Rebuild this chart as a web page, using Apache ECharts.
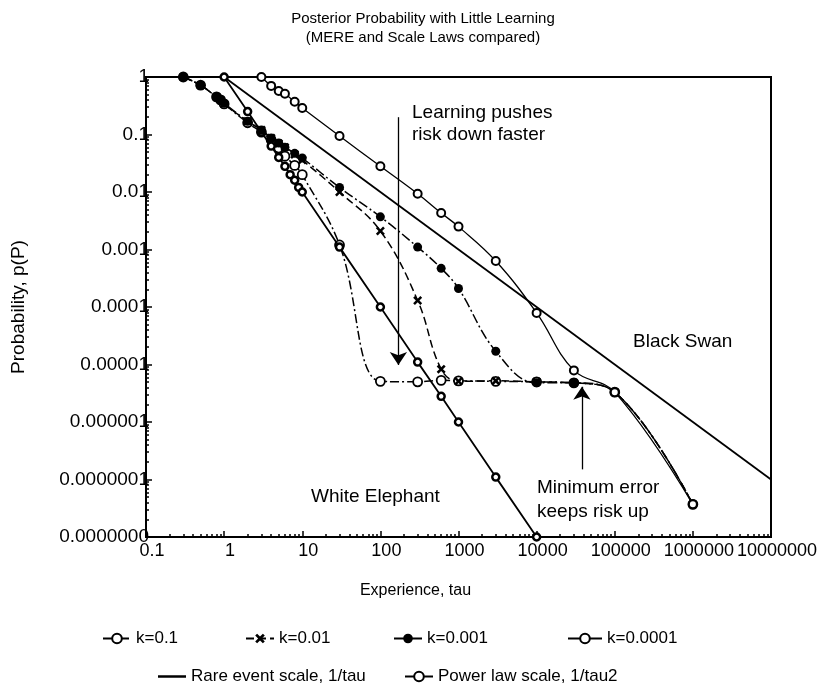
<!DOCTYPE html>
<html>
<head>
<meta charset="utf-8">
<script src="https://cdn.jsdelivr.net/npm/echarts/dist/echarts.min.js"></script>
<style>
  html, body { margin: 0; padding: 0; background: #fff; }
  .EC { width: 839px; height: 683px; }
</style>
</head>
<body>
<div class="EC"></div>
<script>
// experience values (tau)
const tauK = [0.3, 0.5, 0.8, 0.9, 1, 2, 3, 4, 5, 6, 8, 10, 30, 100, 300, 600, 1000, 3000, 10000, 30000, 100000, 1000000]
const tauK4 = [3, 4, 5, 6, 8, 10, 30, 100, 300, 600, 1000, 3000, 10000, 30000, 100000, 1000000]
const tauRare = [1, 10000000]
const tauPower = [1, 2, 3, 4, 5, 6, 7, 8, 9, 10, 30, 100, 300, 600, 1000, 3000, 10000]

// probabilities
const pK1 = [1, 0.72, 0.45, 0.4, 0.34, 0.16, 0.11, 0.08, 0.058, 0.042, 0.029, 0.02, 0.0012, 0.0000051, 0.000005, 0.0000053, 0.0000052, 0.0000051, 0.000005, 0.0000048, 0.0000033, 0.000000037]
const pK2 = [1, 0.72, 0.45, 0.4, 0.34, 0.17, 0.12, 0.087, 0.07, 0.06, 0.045, 0.036, 0.01, 0.0021, 0.00013, 0.0000083, 0.0000051, 0.0000052, 0.000005, 0.0000048, 0.0000033, 0.000000037]
const pK3 = [1, 0.72, 0.45, 0.4, 0.35, 0.17, 0.12, 0.087, 0.071, 0.06, 0.047, 0.039, 0.012, 0.0037, 0.0011, 0.00047, 0.00021, 0.000017, 0.0000048, 0.0000048, 0.0000033, 0.000000037]
const pK4 = [1, 0.7, 0.57, 0.51, 0.37, 0.29, 0.094, 0.028, 0.0093, 0.0043, 0.0025, 0.00063, 0.000079, 0.0000079, 0.0000033, 0.000000037]
const pRare = [1, 0.0000001]
const pPower = [1, 0.25, 0.11, 0.063, 0.04, 0.028, 0.02, 0.016, 0.012, 0.01, 0.0011, 0.0001, 0.000011, 0.0000028, 0.000001, 0.00000011, 0.00000001]

const xTickLabels = ['0.1', '1', '10', '100', '1000', '10000', '100000', '1000000', '10000000']
const yTickLabels = ['1', '0.1', '0.01', '0.001', '0.0001', '0.00001', '0.000001', '0.0000001', '0.0000000']

// arrows: [tau, p from, p to]
const arrowLearn = [170, 0.2, 0.0000098]
const arrowMin = [38000, 0.00000015, 0.0000041]

const font = 'Liberation Sans, Arial, sans-serif'
const cross = 'path://M2,0L5,3L8,0L10,2L7,5L10,8L8,10L5,7L2,10L0,8L3,5L0,2Z'

function pairs(xs, ys) {
    return xs.map((x, i) => [x, ys[i]])
}

let EC = echarts.init(document.querySelector('.EC'))

let legendStyle = { color: '#000', fontSize: 17, fontFamily: font }
function legendAt(name, left, top, w) {
    return {
        data: [name], left: left, top: top, itemWidth: w || 28, itemHeight: 12,
        itemGap: 4, textStyle: legendStyle, selectedMode: false
    }
}

let rareLegend = legendAt('Rare event scale, 1/tau', 153, 663)
rareLegend.data = [{ name: 'Rare event scale, 1/tau', icon: 'rect' }]
rareLegend.itemHeight = 2.5

let option = {
    animation: false,
    backgroundColor: '#fff',
    title: {
        text: 'Posterior Probability with Little Learning\n(MERE and Scale Laws compared)',
        left: 418, top: 4, textAlign: 'center',
        textStyle: { fontSize: 15, fontWeight: 'normal', color: '#000', fontFamily: font, lineHeight: 19 }
    },
    legend: [
        legendAt('k=0.1', 97, 625),
        legendAt('k=0.01', 240, 625),
        legendAt('k=0.001', 388, 625),
        legendAt('k=0.0001', 562, 625, 34),
        rareLegend,
        legendAt('Power law scale, 1/tau2', 399, 663)
    ],
    grid: {
        left: 146, top: 77, right: 68, bottom: 146,
        show: true, borderColor: '#000', borderWidth: 2
    },
    xAxis: {
        type: 'log', logBase: 10, min: 0.1, max: 10000000, interval: 1,
        name: 'Experience, tau', nameLocation: 'middle', nameGap: 46,
        nameTextStyle: { fontSize: 16, color: '#000', fontFamily: font, padding: [0, 86, 0, 0] },
        axisLine: { lineStyle: { color: '#000', width: 2 } },
        axisTick: { inside: true, length: 6, lineStyle: { color: '#000', width: 1.5 } },
        minorTick: { show: true, splitNumber: 9, length: 3, lineStyle: { color: '#000', width: 1.5 } },
        splitLine: { show: false },
        axisLabel: {
            color: '#000', fontSize: 18, fontFamily: font, margin: 5, padding: [0, 0, 0, 12],
            formatter: v => xTickLabels[Math.round(Math.log10(v)) + 1]
        }
    },
    yAxis: {
        type: 'log', logBase: 10, min: 0.00000001, max: 1, interval: 1,
        name: 'Probability, p(P)', nameLocation: 'middle', nameGap: 118,
        nameTextStyle: { fontSize: 19, color: '#000', fontFamily: font },
        axisLine: { lineStyle: { color: '#000', width: 2 } },
        axisTick: { inside: true, length: 6, lineStyle: { color: '#000', width: 1.5 } },
        minorTick: { show: true, splitNumber: 9, length: 3, lineStyle: { color: '#000', width: 1.5 } },
        splitLine: { show: false },
        axisLabel: {
            color: '#000', fontSize: 19, fontFamily: font, margin: -3,
            formatter: v => yTickLabels[-Math.round(Math.log10(v))]
        }
    },
    graphic: [
        { type: 'text', left: 412, top: 102, style: { text: 'Learning pushes\nrisk down faster', fontSize: 19, lineHeight: 22, fontFamily: font, fill: '#000' } },
        { type: 'text', left: 633, top: 332, style: { text: 'Black Swan', fontSize: 19, fontFamily: font, fill: '#000' } },
        { type: 'text', left: 311, top: 487, style: { text: 'White Elephant', fontSize: 19, fontFamily: font, fill: '#000' } },
        { type: 'text', left: 537, top: 476, style: { text: 'Minimum error\nkeeps risk up', fontSize: 19, lineHeight: 24, fontFamily: font, fill: '#000' } }
    ],
    series: [
        {
            name: 'k=0.1', type: 'line', smooth: 0.4, data: pairs(tauK, pK1),
            symbol: 'circle', symbolSize: 9,
            itemStyle: { color: '#fff', borderColor: '#000', borderWidth: 1.8 },
            lineStyle: { color: '#000', width: 1.5, type: [9, 3, 2, 3] },
            z: 3
        },
        {
            name: 'k=0.01', type: 'line', smooth: 0.4, data: pairs(tauK, pK2),
            symbol: cross, symbolSize: 9,
            itemStyle: { color: '#000' },
            lineStyle: { color: '#000', width: 1.5, type: [8, 4] },
            z: 3
        },
        {
            name: 'k=0.001', type: 'line', smooth: 0.4, data: pairs(tauK, pK3),
            symbol: 'circle', symbolSize: 9,
            itemStyle: { color: '#000' },
            lineStyle: { color: '#000', width: 1.5, type: [10, 3, 2, 3] },
            z: 5
        },
        {
            name: 'k=0.0001', type: 'line', smooth: 0.4, data: pairs(tauK4, pK4),
            symbol: 'circle', symbolSize: 8,
            itemStyle: { color: '#fff', borderColor: '#000', borderWidth: 2 },
            lineStyle: { color: '#000', width: 1.3 },
            z: 6
        },
        {
            name: 'Rare event scale, 1/tau', type: 'line', data: pairs(tauRare, pRare),
            symbol: 'none',
            itemStyle: { color: '#000' },
            lineStyle: { color: '#000', width: 1.8 },
            markLine: {
                silent: true, symbol: ['none', 'arrow'], symbolSize: 13,
                label: { show: false },
                itemStyle: { color: '#000' },
                lineStyle: { color: '#000', width: 1.3, type: 'solid' },
                data: [
                    [{ coord: [arrowLearn[0], arrowLearn[1]] }, { coord: [arrowLearn[0], arrowLearn[2]] }],
                    [{ coord: [arrowMin[0], arrowMin[1]] }, { coord: [arrowMin[0], arrowMin[2]] }]
                ]
            }
        },
        {
            name: 'Power law scale, 1/tau2', type: 'line', data: pairs(tauPower, pPower),
            symbol: 'circle', symbolSize: 7,
            itemStyle: { color: '#fff', borderColor: '#000', borderWidth: 2.5 },
            lineStyle: { color: '#000', width: 1.8 },
            z: 4
        }
    ]
}
EC.setOption(option)
</script>
</body>
</html>
